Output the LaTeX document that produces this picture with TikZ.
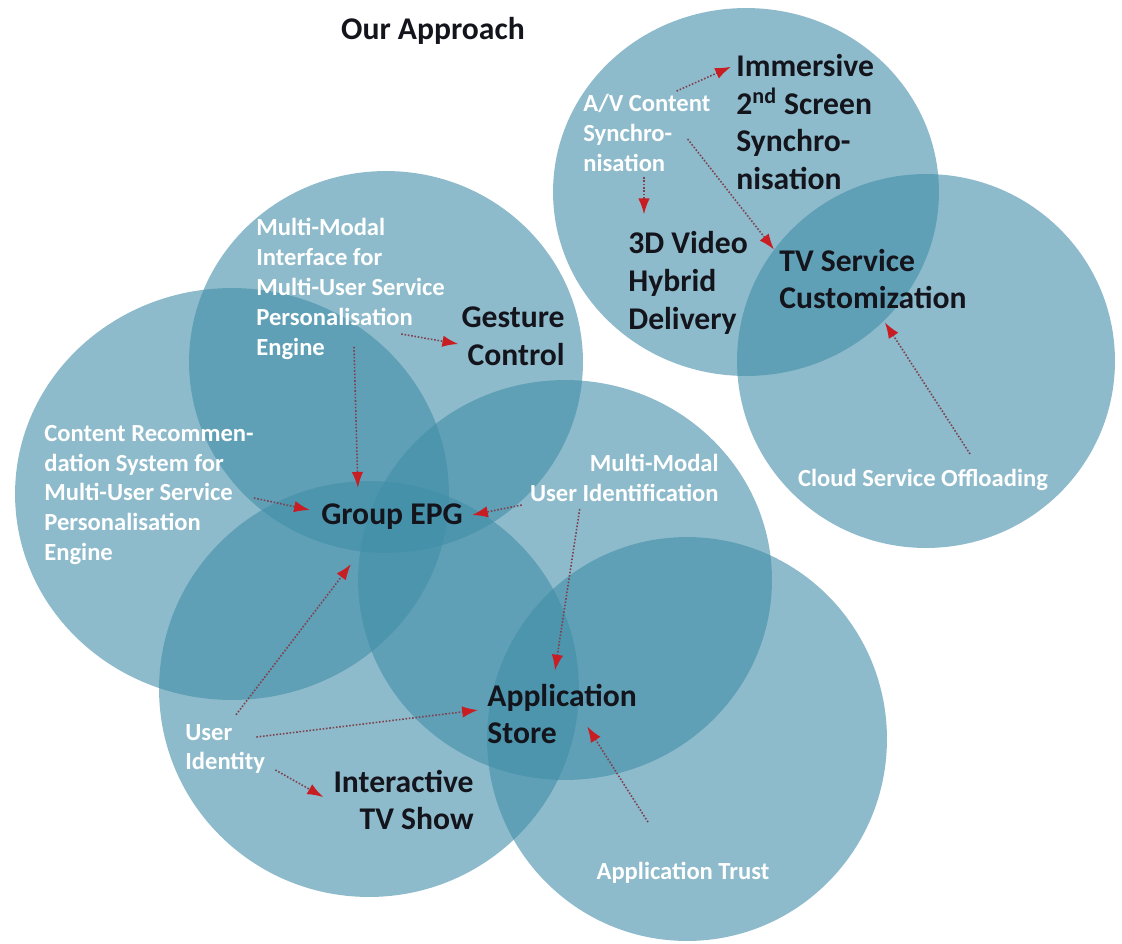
\documentclass[tikz,border=0pt]{standalone}
\usepackage{fontspec}
\setmainfont{Carlito}
\usetikzlibrary{arrows.meta,positioning,calc}
\definecolor{bubblecol}{RGB}{65,142,168}
\definecolor{arrowred}{RGB}{200,30,35}
\definecolor{dotline}{RGB}{125,65,80}
\definecolor{darktext}{RGB}{20,20,28}
\tikzset{
  bubble/.style={fill=bubblecol,fill opacity=0.6},
  bigtext/.style={inner sep=0pt,text=darktext,font=\fontsize{18}{21.5}\selectfont\bfseries},
  smalltext/.style={inner sep=0pt,text=white,font=\fontsize{14}{17}\selectfont\bfseries},
  flow/.style={dotline,densely dotted,line width=0.9pt,-{Latex[length=9pt,width=6.5pt,color=arrowred]}}
}
\begin{document}
\begin{tikzpicture}[x=0.02cm,y=-0.02cm]
\useasboundingbox (0,0) rectangle (1122,943);
% =============================================
% - bubbles.
\fill[bubble] (746,192) ellipse [x radius=3.86cm, y radius=3.68cm];% A/V
\fill[bubble] (926,361) ellipse [x radius=3.78cm, y radius=3.74cm];% cloud
\fill[bubble] (386,362) ellipse [x radius=3.94cm, y radius=3.82cm];% gesture
\fill[bubble] (232,494) ellipse [x radius=4.34cm, y radius=4.12cm];% content
\fill[bubble] (565,580) ellipse [x radius=4.14cm, y radius=4.00cm];% user id
\fill[bubble] (369,689) ellipse [x radius=4.20cm, y radius=4.16cm];% user identity
\fill[bubble] (687,739) ellipse [x radius=4.00cm, y radius=4.04cm];% trust
% =============================================
% - labels.
\node[bigtext] (title) at (433,31) {Our Approach};
\node[smalltext,align=left,anchor=west] (av) at (583,133) {A/V Content\\Synchro-\\nisation};
\node[bigtext,align=left,anchor=west] (immersive) at (736,122) {Immersive\\2\textsuperscript{nd} Screen\\Synchro-\\nisation};
\node[bigtext,align=left,anchor=west] (video3d) at (628,283) {3D Video\\Hybrid\\Delivery};
\node[bigtext,align=left,anchor=west] (tvservice) at (779,279) {TV Service\\Customization};
\node[smalltext] (cloud) at (923,480) {Cloud Service Offloading};
\node[smalltext,align=left,anchor=west] (mminterface) at (256,289) {Multi-Modal\\Interface for\\Multi-User Service\\Personalisation\\Engine};
\node[bigtext,align=right,anchor=east] (gesture) at (565,336) {Gesture\\Control};
\node[smalltext,align=left,anchor=west] (contentrec) at (44,495) {Content Recommen-\\dation System for\\Multi-User Service\\Personalisation\\Engine};
\node[bigtext] (groupepg) at (392,517) {Group EPG};
\node[smalltext,align=right,anchor=east] (mmuserid) at (719,478) {Multi-Modal\\User Identification};
\node[bigtext,align=left,anchor=west] (appstore) at (487,714) {Application\\Store};
\node[smalltext,align=left,anchor=west] (useridentity) at (185,749) {User\\Identity};
\node[bigtext,align=right,anchor=east] (interactive) at (474,800) {Interactive\\TV Show};
\node[smalltext] (apptrust) at (683,873) {Application Trust};
% =============================================
% - arrows.
\draw[flow] ([shift={(-34,-3)}]av.north east) -- ([shift={(-5,13)}]immersive.north west);
\draw[flow] ([shift={(61,5)}]av.south west) -- ([shift={(16,-17)}]video3d.north west);
\draw[flow] ([shift={(-23,6)}]av.east) -- ([shift={(-5,1)}]tvservice.north west);
\draw[flow] ([shift={(47,-15)}]cloud.north) -- ([shift={(12,13)}]tvservice.south);
\draw[flow] ([shift={(-44,45)}]mminterface.east) -- ([shift={(-3,8)}]gesture.west);
\draw[flow] ([shift={(98,-13)}]mminterface.south west) -- ([shift={(37,-16)}]groupepg.north west);
\draw[flow] ([shift={(0,3)}]contentrec.east) -- ([shift={(-11,-7)}]groupepg.west);
\draw[flow] ([shift={(-8,27)}]mmuserid.west) -- ([shift={(9,-2)}]groupepg.east);
\draw[flow] ([shift={(50,7)}]mmuserid.south west) -- ([shift={(68,-13)}]appstore.north west);
\draw[flow] ([shift={(51,-9)}]useridentity.north west) -- ([shift={(30,34)}]groupepg.south west);
\draw[flow] ([shift={(-9,-12)}]useridentity.east) -- ([shift={(-9,-4)}]appstore.west);
\draw[flow] ([shift={(10,21)}]useridentity.east) -- ([shift={(-10,-3)}]interactive.west);
\draw[flow] ([shift={(-35,-40)}]apptrust.north) -- ([shift={(-50,-18)}]appstore.south east);
% =============================================
\end{tikzpicture}
\end{document}
